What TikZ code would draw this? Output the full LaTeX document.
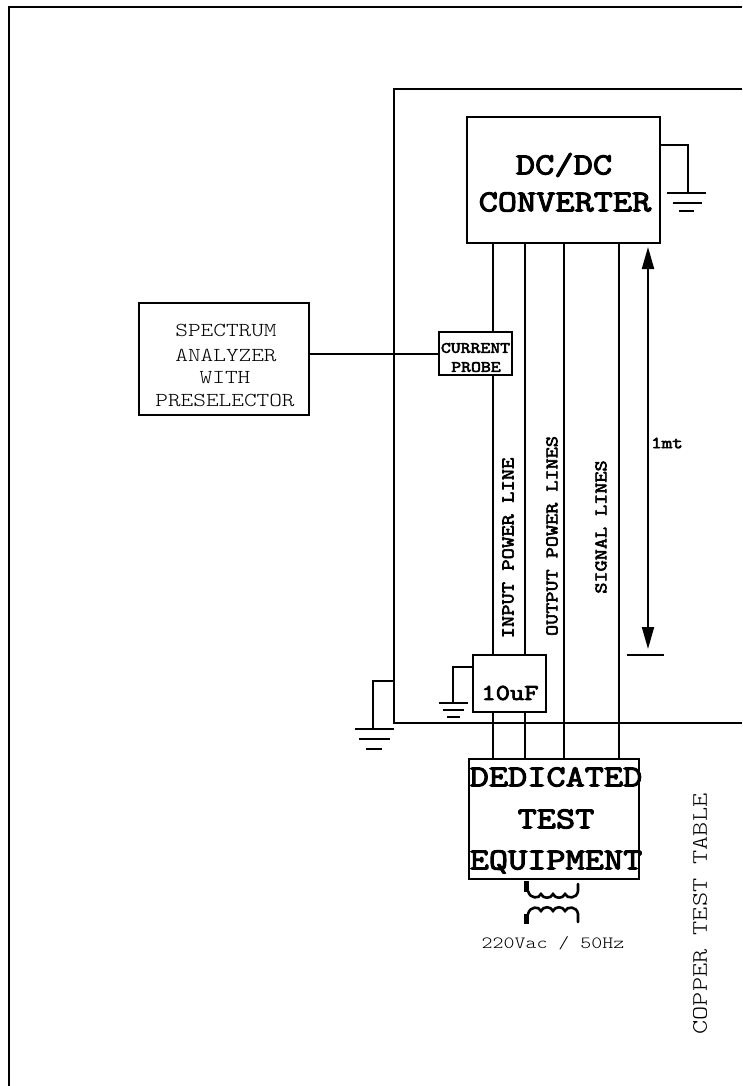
\documentclass[tikz,border=0pt]{standalone}
\usepackage{fontspec}
\usetikzlibrary{arrows.meta}
\newfontfamily\crg[FakeStretch=1.22]{Latin Modern Mono Light}
\newfontfamily\cbd[FakeStretch=1.22,FakeBold=3.5]{Latin Modern Mono}
\newcommand{\fsz}[1]{\pgfmathsetmacro{\sz}{#1*1.557}\fontsize{\sz pt}{\sz pt}\selectfont}
\tikzset{
  box/.style={draw,line width=2pt,inner sep=0pt,rectangle},
  wire/.style={line width=2pt},
  thinwire/.style={line width=1.7pt},
  rtxt/.style={inner sep=0pt,font={\crg\fsz{#1}},text=black},
  btxt/.style={inner sep=0pt,font={\cbd\fsz{#1}}},
  coil/.style={line width=2.6pt,line cap=round}
}
\begin{document}
\begin{tikzpicture}[x=1pt,y=-1pt]
\useasboundingbox (0,0) rectangle (742,1086);
% outer frame and table
\coordinate (fa) at (9,1086); \coordinate (fb) at (9,7); \coordinate (fc) at (742,7);
\draw[line width=2.3pt] (fa) -- (fb) -- (fc);
\coordinate (ta) at (742,89); \coordinate (tb) at (393.5,89); \coordinate (tc) at (393.5,723); \coordinate (td) at (742,723);
\draw[wire] (ta) -- (tb) -- (tc) -- (td);
% boxes
\node[box,minimum width=193pt,minimum height=126pt] (dc) at (563.5,180) {};
\node[box,minimum width=170pt,minimum height=112pt] (sa) at (224,359) {};
\node[box,minimum width=73pt,minimum height=43pt] (cp) at (475.5,353.5) {};
\node[box,minimum width=73pt,minimum height=57pt] (cap) at (509.5,683.5) {};
\node[box,minimum width=170pt,minimum height=120pt] (te) at (554,819) {};
% box text
\node[btxt=19.7] (t1) at (564,165) {DC/DC};
\node[btxt=19.6] (t2) at (565,202) {CONVERTER};
\node[rtxt=12.7] (t3) at (226,330) {SPECTRUM};
\node[rtxt=12.7] (t4) at (226,355) {ANALYZER};
\node[rtxt=12.7] (t5) at (225,378) {WITH};
\node[rtxt=12.7] (t6) at (225,400) {PRESELECTOR};
\node[btxt=10.1] (t7) at (475.5,348) {CURRENT};
\node[btxt=10.1] (t8) at (476,367) {PROBE};
\node[btxt=14.6] (t9) at (510,693) {10uF};
\node[btxt=19.6] (t10) at (556,777) {DEDICATED};
\node[btxt=19.6] (t11) at (556,819) {TEST};
\node[btxt=19.6] (t12) at (556,862) {EQUIPMENT};
\node[rtxt=11] (t13) at (553,943) {220Vac / 50Hz};
\node[btxt=11.55,rotate=90] (t14) at (508,548) {INPUT POWER LINE};
\node[btxt=11.35,rotate=90] (t15) at (552,536) {OUTPUT POWER LINES};
\node[btxt=11.35,rotate=90] (t16) at (601,527) {SIGNAL LINES};
\node[btxt=10.8] (t17) at (667,443) {1mt};
\node[rtxt=14.2,rotate=90] (t18) at (700,914) {COPPER TEST TABLE};
% vertical lines
\coordinate (a1) at (493,243); \coordinate (a2) at (493,332);
\coordinate (a3) at (493,375); \coordinate (a4) at (493,655);
\coordinate (a5) at (493,712); \coordinate (a6) at (493,759);
\draw[wire] (a1) -- (a2); \draw[wire] (a3) -- (a4); \draw[wire] (a5) -- (a6);
\coordinate (b1) at (525,243); \coordinate (b2) at (525,655);
\coordinate (b3) at (525,712); \coordinate (b4) at (525,759);
\draw[wire] (b1) -- (b2); \draw[wire] (b3) -- (b4);
\coordinate (c1) at (564,243); \coordinate (c2) at (564,759);
\draw[line width=2.2pt] (c1) -- (c2);
\coordinate (d1) at (619,243); \coordinate (d2) at (619,759);
\draw[wire] (d1) -- (d2);
\coordinate (s1) at (309,353.5);
\draw[wire] (s1) -- (cp.west);
% 1mt dimension
\coordinate (m1) at (648,247); \coordinate (m2) at (648,649);
\draw[wire,{Triangle[length=22pt,width=12pt]}-{Triangle[length=22pt,width=12pt]}] (m1) -- (m2);
\coordinate (m3) at (627,655); \coordinate (m4) at (664,655);
\draw[wire] (m3) -- (m4);
% grounds
\coordinate (g1a) at (660,145); \coordinate (g1b) at (688,145); \coordinate (g1c) at (688,193);
\draw[thinwire] (g1a) -- (g1b) -- (g1c);
\coordinate (g1d) at (667,193); \coordinate (g1e) at (706,193);
\coordinate (g1f) at (673,203); \coordinate (g1g) at (702,203);
\coordinate (g1h) at (679,211); \coordinate (g1i) at (694,211);
\draw[thinwire] (g1d) -- (g1e); \draw[thinwire] (g1f) -- (g1g); \draw[thinwire] (g1h) -- (g1i);
\coordinate (g2a) at (473,667); \coordinate (g2b) at (453,667); \coordinate (g2c) at (453,703);
\draw[thinwire] (g2a) -- (g2b) -- (g2c);
\coordinate (g2d) at (439,703); \coordinate (g2e) at (468,703);
\coordinate (g2f) at (443,710); \coordinate (g2g) at (464,710);
\coordinate (g2h) at (447,717); \coordinate (g2i) at (460,717);
\draw[thinwire] (g2d) -- (g2e); \draw[thinwire] (g2f) -- (g2g); \draw[thinwire] (g2h) -- (g2i);
\coordinate (g3a) at (393,681); \coordinate (g3b) at (373,681); \coordinate (g3c) at (373,729);
\draw[thinwire] (g3a) -- (g3b) -- (g3c);
\coordinate (g3d) at (355,729); \coordinate (g3e) at (394,729);
\coordinate (g3f) at (359,739); \coordinate (g3g) at (390,739);
\coordinate (g3h) at (366,749); \coordinate (g3i) at (382,749);
\draw[thinwire] (g3d) -- (g3e); \draw[thinwire] (g3f) -- (g3g); \draw[thinwire] (g3h) -- (g3i);
% transformer
\draw[coil] (528,891) .. controls (530,899) and (539,899) .. (541,894)
  .. controls (543,899) and (551,899) .. (553,894)
  .. controls (555,899) and (563,899) .. (565,894)
  .. controls (567,899) and (577,899) .. (578,891) -- (578,884);
\draw[coil] (528,914) .. controls (530,906) and (539,906) .. (541,911)
  .. controls (543,906) and (551,906) .. (553,911)
  .. controls (555,906) and (563,906) .. (565,911)
  .. controls (567,906) and (577,906) .. (578,914) -- (578,922);
\fill (524,881) rectangle (529,892);
\fill (524,914) rectangle (529,924);
\end{tikzpicture}
\end{document}
